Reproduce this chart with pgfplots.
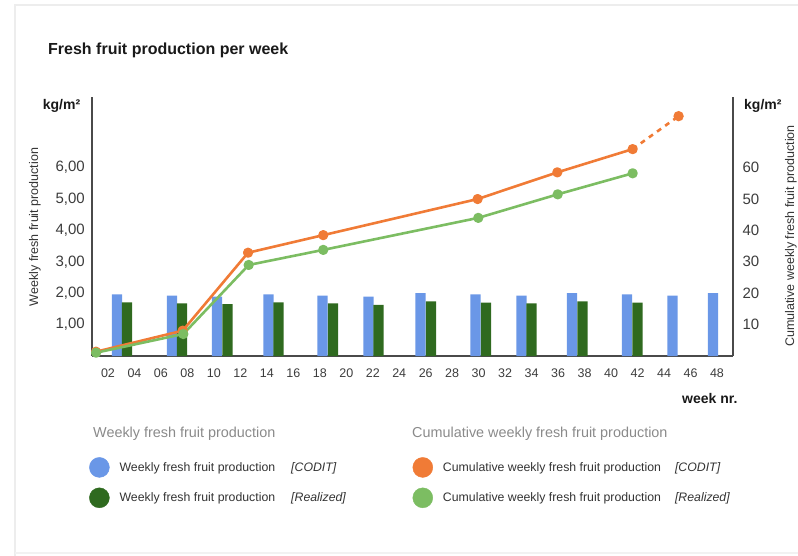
\documentclass[border=0pt]{standalone}
\usepackage{fontspec}
\setmainfont{Liberation Sans}
\usepackage{pgfplots}
\pgfplotsset{compat=1.18}
\definecolor{cblue}{HTML}{6A97E7}
\definecolor{cdgreen}{HTML}{2F6A1F}
\definecolor{corange}{HTML}{F07B36}
\definecolor{clgreen}{HTML}{7CBD62}
\definecolor{ctxt}{HTML}{333333}
\definecolor{ctick}{HTML}{3C3C3C}
\definecolor{chead}{HTML}{8A8A8A}
\definecolor{caxis}{HTML}{4A4A4A}
\begin{document}
\begin{tikzpicture}
\useasboundingbox (0pt,0pt) rectangle (798pt,555pt);
\draw[black!7, line width=1.5pt] (15pt,-5pt) -- (15pt,550pt) -- (805pt,550pt);
\draw[black!5, line width=1.5pt] (15pt,2pt) -- (805pt,2pt);
\begin{axis}[
  at={(92pt,199pt)}, anchor=south west,
  scale only axis, width=641pt, height=259pt,
  xmin=0.793, xmax=49.21, ymin=0, ymax=8.25,
  axis x line*=bottom, axis y line*=left,
  axis line style={draw=caxis, line width=1.1pt, -},
  major tick length=0pt,
  xtick={2,4,...,48},
  xticklabels={02,04,06,08,10,12,14,16,18,20,22,24,26,28,30,32,34,36,38,40,42,44,46,48},
  ytick={1,2,3,4,5,6},
  yticklabels={{1,00},{2,00},{3,00},{4,00},{5,00},{6,00}},
  xticklabel style={font=\fontsize{12.5}{14}\selectfont, text=ctick, anchor=base, yshift=-21.8pt},
  yticklabel style={font=\fontsize{15}{17}\selectfont, text=ctick, xshift=-3.7pt},
  /pgf/number format/assume math mode=true,
]
\addplot[ybar, bar width=0.77, bar shift=0pt, fill=cblue, draw=none] coordinates {(2.68,1.965) (6.84,1.92) (10.23,1.89) (14.12,1.965) (18.20,1.92) (21.68,1.89) (25.60,2.00) (29.76,1.965) (33.23,1.92) (37.05,2.00) (41.20,1.965) (44.64,1.92) (47.70,2.00)};
\addplot[ybar, bar width=0.77, bar shift=0pt, fill=cdgreen, draw=none] coordinates {(3.44,1.71) (7.59,1.68) (11.03,1.65) (14.88,1.71) (19.00,1.68) (22.43,1.63) (26.40,1.74) (30.55,1.70) (33.99,1.68) (37.84,1.74) (41.99,1.70)};
\end{axis}
\begin{axis}[
  at={(92pt,199pt)}, anchor=south west,
  scale only axis, width=641pt, height=259pt,
  xmin=0.793, xmax=49.21, ymin=0, ymax=82.5,
  axis x line=none, axis y line*=right,
  axis line style={draw=caxis, line width=1.1pt, -},
  major tick length=0pt,
  ytick={10,20,...,60},
  yticklabel style={font=\fontsize{15}{17}\selectfont, text=ctick, xshift=6pt},
  /pgf/number format/assume math mode=true,
  clip=false,
  legend columns=2, legend cell align=left,
  legend style={draw=none, fill=none, inner sep=0pt, at={(rel axis cs:-0.0047,-0.39)}, anchor=north west,
    font=\fontsize{12.3}{14}\selectfont, text=ctxt, row sep=10pt,
    nodes={inner sep=0pt},
    /tikz/every odd column/.append style={column sep=10pt},
    /tikz/every even column/.append style={column sep=0pt}},
]
\addlegendimage{legend image code/.code={\fill[cblue] (10pt,0pt) circle[radius=10pt];}}
\addlegendentry{\makebox[293pt][l]{Weekly fresh fruit production\hspace{16pt}\textit{[CODIT]}}}
\addlegendimage{legend image code/.code={\fill[corange] (10pt,0pt) circle[radius=10pt];}}
\addlegendentry{Cumulative weekly fresh fruit production\hspace{14pt}\textit{[CODIT]}}
\addlegendimage{legend image code/.code={\fill[cdgreen] (10pt,0pt) circle[radius=10pt];}}
\addlegendentry{\makebox[293pt][l]{Weekly fresh fruit production\hspace{16pt}\textit{[Realized]}}}
\addlegendimage{legend image code/.code={\fill[clgreen] (10pt,0pt) circle[radius=10pt];}}
\addlegendentry{Cumulative weekly fresh fruit production\hspace{14pt}\textit{[Realized]}}
\addplot[corange, line width=2.6pt, line join=round, mark=*, mark size=3.8pt, mark options={solid}, forget plot] coordinates {(1.10,1.37) (7.64,8.06) (12.58,32.9) (18.26,38.5) (29.92,50.0) (35.94,58.5) (41.63,65.9)};
\addplot[corange, line width=2.6pt, dash pattern=on 5pt off 5pt, mark=*, mark size=3.8pt, mark indices={2}, mark options={solid}, forget plot] coordinates {(41.63,65.9) (45.10,76.4)};
\addplot[clgreen, line width=2.6pt, line join=round, mark=*, mark size=3.8pt, mark options={solid}, forget plot] coordinates {(1.10,1.05) (7.69,7.0) (12.63,29.0) (18.26,33.8) (29.97,44.0) (35.97,51.5) (41.63,58.2)};
\end{axis}
\node[anchor=base west, inner sep=0pt, font=\bfseries\fontsize{16}{19}\selectfont, text=black!90] at (48pt,500.7pt) {Fresh fruit production per week};
\node[anchor=base west, inner sep=0pt, font=\bfseries\fontsize{14}{16}\selectfont, text=black!90] at (42.7pt,445pt) {kg/m²};
\node[anchor=base west, inner sep=0pt, font=\bfseries\fontsize{14}{16}\selectfont, text=black!90] at (744pt,445.5pt) {kg/m²};
\node[anchor=base west, inner sep=0pt, font=\bfseries\fontsize{14}{16}\selectfont, text=black!90] at (682pt,152pt) {week nr.};
\node[rotate=90, inner sep=0pt, font=\fontsize{12.5}{14}\selectfont, text=ctxt] at (35pt,328pt) {Weekly fresh fruit production};
\node[rotate=90, inner sep=0pt, font=\fontsize{12.5}{14}\selectfont, text=ctxt] at (791pt,319pt) {Cumulative weekly fresh fruit production};
\node[anchor=base west, inner sep=0pt, font=\fontsize{14.4}{16}\selectfont, text=chead] at (93pt,117.5pt) {Weekly fresh fruit production};
\node[anchor=base west, inner sep=0pt, font=\fontsize{14.4}{16}\selectfont, text=chead] at (412pt,117.5pt) {Cumulative weekly fresh fruit production};
\end{tikzpicture}
\end{document}
